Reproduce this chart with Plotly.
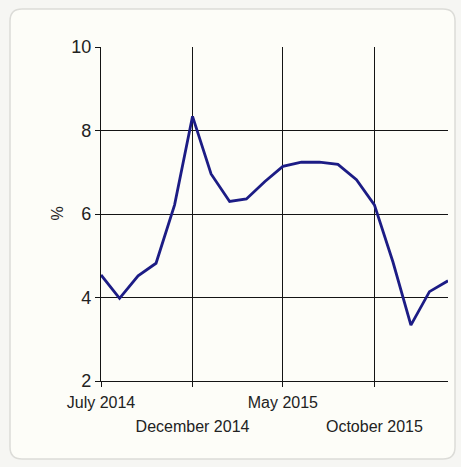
import plotly.graph_objects as go

months = ["2014-07-01", "2014-08-01", "2014-09-01", "2014-10-01", "2014-11-01", "2014-12-01",
          "2015-01-01", "2015-02-01", "2015-03-01", "2015-04-01", "2015-05-01", "2015-06-01",
          "2015-07-01", "2015-08-01", "2015-09-01", "2015-10-01", "2015-11-01", "2015-12-01",
          "2016-01-01", "2016-02-01"]
values = [4.54, 3.98, 4.52, 4.82, 6.22, 8.34, 6.96, 6.30, 6.36, 6.78, 7.14, 7.24,
          7.24, 7.19, 6.82, 6.22, 4.85, 3.34, 4.14, 4.40]

upper_ticks = ["2014-07-01", "2015-05-01"]
upper_labels = ["July 2014", "May 2015"]
lower_ticks = ["2014-12-01", "2015-10-01"]
lower_labels = ["December 2014", "October 2015"]
y_ticks = [2, 4, 6, 8, 10]

font_family = "Liberation Sans, Arial, sans-serif"
grid_c = "#141414"

W, H = 461, 467
pl, pr, pt, pb = 101, 13, 47, 86

fig = go.Figure()
fig.add_trace(go.Scatter(x=months, y=values, mode="lines",
                         line=dict(color="#1c1c85", width=2.8), xaxis="x", yaxis="y",
                         showlegend=False, hoverinfo="x+y"))
fig.add_trace(go.Scatter(x=[months[0]], y=[None], xaxis="x2", yaxis="y",
                         showlegend=False, hoverinfo="skip"))

xr = [months[0], months[-1]]
common_x = dict(type="date", range=xr, showgrid=True, gridcolor=grid_c, gridwidth=1.4,
                ticks="outside", ticklen=5, tickcolor=grid_c, tickwidth=1.4, zeroline=False,
                automargin=False,
                tickfont=dict(family=font_family, size=16, color="#222222"))

# card background (rounded rectangle) in paper coords
pw, ph = W - pl - pr, H - pt - pb
def px(x):
    return (x - pl) / pw
def py(y):
    return (H - pb - y) / ph
x0, x1, y0, y1, r = 10, 455, 9, 459, 12
path = (f"M {px(x0+r)},{py(y0)} L {px(x1-r)},{py(y0)} "
        f"Q {px(x1)},{py(y0)} {px(x1)},{py(y0+r)} L {px(x1)},{py(y1-r)} "
        f"Q {px(x1)},{py(y1)} {px(x1-r)},{py(y1)} L {px(x0+r)},{py(y1)} "
        f"Q {px(x0)},{py(y1)} {px(x0)},{py(y1-r)} L {px(x0)},{py(y0+r)} "
        f"Q {px(x0)},{py(y0)} {px(x0+r)},{py(y0)} Z")

fig.update_layout(
    width=W, height=H,
    margin=dict(l=pl, r=pr, t=pt, b=pb, autoexpand=False),
    paper_bgcolor="#f6f6f3",
    plot_bgcolor="rgba(0,0,0,0)",
    font=dict(family=font_family, color="#222222"),
    xaxis=dict(**common_x, tickvals=upper_ticks, ticktext=upper_labels,
               showline=True, linecolor=grid_c, linewidth=1.4, ticklabelstandoff=2),
    xaxis2=dict(**common_x, tickvals=lower_ticks, ticktext=lower_labels,
                overlaying="x", side="bottom", matches="x", ticklabelstandoff=26,
                showline=False),
    yaxis=dict(range=[2, 10], tickvals=y_ticks, showgrid=True, gridcolor=grid_c,
               gridwidth=1.4, ticks="outside", ticklen=5, tickcolor=grid_c, tickwidth=1.4,
               showline=True, linecolor=grid_c, linewidth=1.4, zeroline=False,
               automargin=False,
               tickfont=dict(family=font_family, size=18, color="#222222")),
    shapes=[dict(type="path", xref="paper", yref="paper", layer="below",
                 path=path, fillcolor="#fdfdf8",
                 line=dict(color="#dcdcd8", width=1.5))],
    annotations=[dict(text="%", xref="paper", yref="paper", x=px(46), y=py(214),
                      showarrow=False, textangle=-90,
                      font=dict(family=font_family, size=16, color="#222222"))],
)

fig.write_html("out.html", config={"displayModeBar": False},
               post_script="document.body.style.margin='0';document.body.style.overflow='hidden';")
